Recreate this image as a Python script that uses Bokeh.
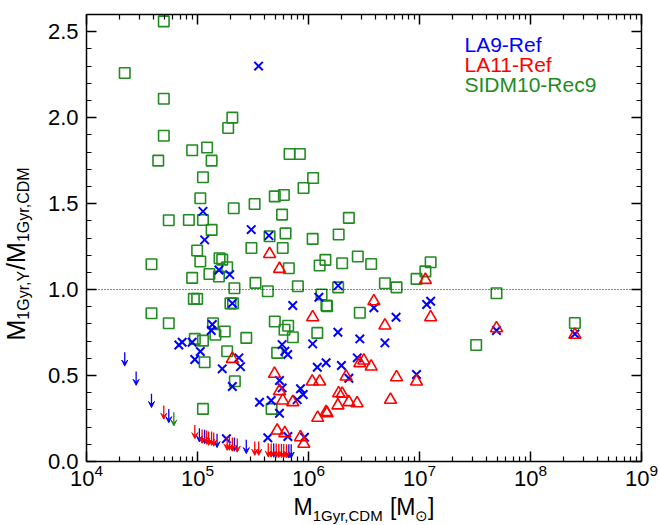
import math
from bokeh.plotting import figure
from bokeh.layouts import row, column
from bokeh.models import (Range1d, FixedTicker, LinearAxis, LogAxis, Label, Span, Arrow,
                          VeeHead, ColumnDataSource, NumeralTickFormatter, CustomJSTickFormatter)
from bokeh.embed import file_html
from bokeh.resources import INLINE

# ---------------- data ----------------
sidm_mass = [4.97e4, 2.21e4, 4.97e4, 2.06e5, 1.89e5, 4.97e4, 8.95e4, 1.22e5, 4.43e4, 1.34e5,
             1.12e5, 1.06e5, 4.97e5, 3.27e5, 2.12e5, 5.51e4, 8.36e4, 1.12e5, 1.34e5, 3.06e5,
             4.46e5, 9.93e4, 1.06e5, 3.85e4, 1.58e5, 1.67e5, 1.85e5, 1.28e5, 1.56e5, 8.95e4,
             3.33e5, 2.15e5, 4.30e5, 9.27e4, 9.93e4, 1.98e5, 2.09e5, 3.85e4, 5.51e4, 1.38e5,
             1.76e5, 1.45e5, 2.75e5, 9.46e4, 1.12e5, 4.97e5, 6.56e5, 6.08e5, 7.23e5, 1.20e6,
             1.45e6, 1.85e5, 5.22e5, 1.16e5, 2.17e5, 1.12e5, 4.65e5, 6.75e5, 8.36e5, 1.10e6,
             9.02e5, 6.00e5, 5.78e5, 2.31e6, 6.21e5, 1.09e6, 1.87e6, 5.86e5, 2.78e6, 1.42e6,
             1.26e6, 2.01e6, 3.67e6, 6.65e5, 1.26e7, 1.13e7, 9.40e6, 4.88e6, 6.21e6, 1.85e6,
             8.02e5, 1.31e6, 1.47e6, 2.90e6, 4.94e7, 3.24e7, 2.51e8]
sidm_ratio = [2.56, 2.26, 2.11, 2.00, 1.94, 1.895, 1.81, 1.826, 1.75, 1.75,
              1.653, 1.531, 1.542, 1.498, 1.473, 1.403, 1.405, 1.405, 1.347, 1.242,
              1.31, 1.227, 1.163, 1.147, 1.182, 1.174, 1.13, 1.091, 1.076, 1.068,
              1.039, 1.008, 0.99, 0.946, 0.946, 0.92, 0.92, 0.862, 0.804, 0.804,
              0.756, 0.737, 0.719, 0.713, 0.703, 0.814, 0.79, 0.766, 0.723, 0.748,
              0.907, 0.641, 0.632, 0.577, 0.467, 0.306, 0.306, 1.789, 1.789, 1.649,
              1.591, 1.55, 1.436, 1.417, 1.327, 1.295, 1.32, 1.242, 1.192, 1.173,
              1.14, 1.153, 1.149, 1.124, 1.159, 1.106, 1.062, 1.037, 1.013, 1.013,
              1.019, 0.971, 0.903, 0.865, 0.979, 0.678, 0.806]

la9_mass = [3.55e5, 1.12e5, 1.16e5, 3.05e5, 4.40e5, 1.56e5, 1.95e5, 2.06e5, 7.21e5, 1.24e6,
            1.85e6, 3.88e6, 6.15e6, 1.16e7, 1.26e7, 1.36e5, 1.33e5, 6.79e4, 7.28e4, 8.95e4,
            1.06e5, 9.46e4, 2.36e5, 2.44e5, 1.67e5, 2.06e5, 5.78e5, 6.50e5, 6.12e5, 1.09e6,
            1.20e6, 1.44e6, 5.48e5, 5.79e5, 3.62e5, 4.61e5, 5.48e5, 8.47e5, 8.95e5, 7.91e5,
            4.30e5, 6.52e5, 9.20e5, 1.82e5, 1.84e6, 2.90e6, 4.88e6, 1.98e6, 2.75e6, 2.31e6,
            9.40e6, 4.94e7, 2.51e8]
la9_ratio = [2.30, 1.455, 1.289, 1.349, 1.314, 1.114, 1.087, 0.92, 0.907, 0.955,
             1.023, 0.894, 0.839, 0.913, 0.932, 0.797, 0.762, 0.678, 0.694, 0.694,
             0.64, 0.593, 0.603, 0.552, 0.539, 0.436, 0.68, 0.622, 0.641, 0.684,
             0.548, 0.574, 0.471, 0.428, 0.345, 0.355, 0.281, 0.423, 0.39, 0.36,
             0.138, 0.145, 0.141, 0.132, 0.752, 0.713, 0.69, 0.558, 0.603, 0.484,
             0.506, 0.762, 0.742]

la11_mass = [4.46e5, 5.48e5, 3.88e6, 1.13e7, 1.09e6, 1.26e7, 4.88e6, 2.90e6, 3.15e6, 3.67e6,
             2.18e6, 1.08e6, 1.26e6, 6.21e6, 9.40e6, 4.94e5, 5.48e5, 5.86e5, 7.21e5, 1.87e6,
             2.01e6, 1.84e6, 2.31e6, 2.74e6, 5.48e6, 1.44e6, 1.47e6, 1.21e6, 5.22e5, 6.12e5,
             8.47e5, 9.08e5, 2.06e5, 4.94e7, 2.51e8]
la11_ratio = [1.207, 1.12, 0.932, 1.056, 0.839, 0.839, 0.791, 0.572, 0.587, 0.552,
              0.494, 0.465, 0.465, 0.49, 0.465, 0.51, 0.409, 0.355, 0.345, 0.397,
              0.394, 0.326, 0.345, 0.339, 0.359, 0.287, 0.281, 0.254, 0.18, 0.165,
              0.141, 0.103, 0.597, 0.775, 0.737]

# upper limits (arrows pointing down)
la9_lim_mass = [2.21e4, 2.80e4, 3.85e4, 5.51e4, 1.04e5, 1.16e5, 1.50e5, 2.15e5, 2.75e5,
                4.86e5, 6.65e5, 6.98e5]
la9_lim_ratio = [0.635, 0.523, 0.394, 0.306, 0.194, 0.184, 0.161, 0.14, 0.126,
                 0.105, 0.10, 0.10]
la11_lim_mass = [4.97e4, 9.46e4, 1.10e5, 1.21e5, 1.26e5, 1.34e5, 1.40e5, 1.85e5, 1.94e5,
                 2.06e5, 2.28e5, 3.28e5, 3.56e5, 4.34e5, 4.61e5, 5.12e5, 5.40e5, 5.71e5,
                 5.98e5, 6.34e5]
la11_lim_ratio = [0.326, 0.213, 0.186, 0.18, 0.174, 0.174, 0.169, 0.145, 0.145,
                  0.14, 0.134, 0.116, 0.116, 0.106, 0.105, 0.104, 0.103, 0.103,
                  0.102, 0.10]
sidm_lim_mass = [6.12e4]
sidm_lim_ratio = [0.287]

series_names = ["LA9-Ref", "LA11-Ref", "SIDM10-Rec9"]
x_major = [1e4, 1e5, 1e6, 1e7, 1e8, 1e9]
y_major = [0.0, 0.5, 1.0, 1.5, 2.0, 2.5]

# ---------------- style ----------------
BLUE, RED, GREEN = "#0000ff", "#ff0000", "#228b22"
FONT = "Liberation Sans"
DESC = 0.212                 # font descent (em) used to place text on its baseline
ARROW_LEN = 0.08

W_TOTAL, H_TOTAL = 659, 525
YLAB_W = 38                  # strip for the rotated y title
MAIN_W = W_TOTAL - YLAB_W    # 621
MAIN_H = 493
XLAB_H = H_TOTAL - MAIN_H    # 32

# frame placement on the page (pixels)
FX0, FX1, FY0, FY1 = 86.0, 641.0, 14.0, 461.0
PPD = (FX1 - FX0) / 5.0
PPU = (FY1 - FY0) / 2.6


def sx(px):
    return 10 ** (4 + (px - FX0) / PPD)


def sy(py):
    return (FY1 - py) / PPU


x_minor = [k * d for d in x_major[:-1] for k in range(2, 10)]
y_minor = [i / 10 for i in range(0, 27)]

p = figure(width=MAIN_W, height=MAIN_H, x_axis_type="log",
           x_range=Range1d(1e4, 1e9), y_range=Range1d(0, 2.6),
           output_backend="svg", toolbar_location=None,
           min_border_left=int(FX0 - YLAB_W), min_border_right=int(W_TOTAL - FX1),
           min_border_top=int(FY0), min_border_bottom=int(MAIN_H - FY1))
p.grid.visible = False
p.outline_line_color = None


def style_axis(ax, labels=True):
    ax.axis_line_width = 1.5
    ax.axis_line_color = "black"
    ax.major_tick_line_color = "black"
    ax.minor_tick_line_color = "black"
    ax.major_tick_line_width = 1.5
    ax.minor_tick_line_width = 1.2
    ax.major_tick_in = 10
    ax.major_tick_out = 0
    ax.minor_tick_in = 5
    ax.minor_tick_out = 0
    if labels:
        ax.major_label_text_font = FONT
        ax.major_label_text_font_size = "22px"
        ax.major_label_text_color = "black"
        ax.major_label_standoff = 8
    else:
        ax.formatter = CustomJSTickFormatter(code="return ''")
        ax.major_label_text_font_size = "0px"
        ax.major_label_standoff = 0


xb = p.below[0]
xb.ticker = FixedTicker(ticks=x_major, minor_ticks=x_minor)
style_axis(xb)
xb.major_label_standoff = 2

yl = p.left[0]
yl.ticker = FixedTicker(ticks=y_major, minor_ticks=y_minor)
yl.formatter = NumeralTickFormatter(format="0.0")
style_axis(yl)

xt = LogAxis(ticker=FixedTicker(ticks=x_major, minor_ticks=x_minor))
style_axis(xt, labels=False)
p.add_layout(xt, "above")
yr = LinearAxis(ticker=FixedTicker(ticks=y_major, minor_ticks=y_minor))
style_axis(yr, labels=False)
p.add_layout(yr, "right")

# reference line
p.add_layout(Span(location=1.0, dimension="width", line_color="black",
                  line_dash="1 2", line_width=1))

# points
p.scatter(sidm_mass, sidm_ratio, marker="square", size=10.5, fill_color=None,
          line_color=GREEN, line_width=1.6)
p.scatter(la9_mass, la9_ratio, marker="x", size=12, line_color=BLUE, line_width=2)
p.scatter(la11_mass, la11_ratio, marker="triangle", size=12, fill_color=None,
          line_color=RED, line_width=1.6)

# upper limits
for m, r, c in [(la9_lim_mass, la9_lim_ratio, BLUE),
                (la11_lim_mass, la11_lim_ratio, RED),
                (sidm_lim_mass, sidm_lim_ratio, GREEN)]:
    src = ColumnDataSource(dict(x=m, y=r, y2=[v - ARROW_LEN for v in r]))
    p.add_layout(Arrow(end=VeeHead(size=6, line_color=c, fill_color=c, line_width=1),
                       x_start="x", y_start="y", x_end="x", y_end="y2", source=src,
                       line_color=c, line_width=1.3))

# legend texts (baseline at the given page y)
LEG_FS = 21
for i, (name, col) in enumerate(zip(series_names, [BLUE, RED, GREEN])):
    base = 51.5 + 20 * i
    p.add_layout(Label(x=sx(464), y=sy(base + DESC * LEG_FS), text=name, text_color=col,
                       text_font=FONT, text_font_size=f"{LEG_FS}px",
                       text_align="left", text_baseline="bottom"))


def text_canvas(w, h, xr, yr_):
    f = figure(width=w, height=h, x_range=xr, y_range=yr_,
               x_axis_type=None, y_axis_type=None, output_backend="svg",
               toolbar_location=None, min_border=0)
    f.grid.visible = False
    f.outline_line_color = None
    return f


# x-axis title strip (its frame is aligned with the main frame: FX0..FX1)
xlab = text_canvas(MAIN_W, XLAB_H, Range1d(FX0, FX1), Range1d(0, XLAB_H))
BIG, SUB = 23, 15
# (text, font size, advance in em, extra gap in em before the piece)
xpieces = [("M", BIG, 0.833, 0.0), ("1Gyr,CDM", SUB, 4.722, 0.0), ("[M", BIG, 1.111, 0.278),
           ("\u2299", SUB, 0.84, 0.0), ("]", BIG, 0.278, 0.0)]
cx = 293.0
for txt, fs, em, gap in xpieces:
    cx += gap * fs
    base = 515.0 if fs == BIG else 520.0
    xlab.add_layout(Label(x=cx, y=H_TOTAL - (base + DESC * fs), text=txt,
                          text_color="black", text_font=FONT, text_font_size=f"{fs}px",
                          text_align="left", text_baseline="bottom"))
    cx += em * fs

# y-axis title strip: M_{1Gyr,Y}/M_{1Gyr,CDM} (rotated)
ylab = text_canvas(YLAB_W, H_TOTAL, Range1d(0, YLAB_W), Range1d(0, H_TOTAL))
YBIG, YSUB = 25, 16
ypieces = [("M", YBIG, 0.833), ("1Gyr,Y", YSUB, 3.112), ("/M", YBIG, 1.111),
           ("1Gyr,CDM", YSUB, 4.722)]
cy = 340.0
for txt, fs, em in ypieces:
    base = 24.0 if fs == YBIG else 28.5
    ylab.add_layout(Label(x=base + DESC * fs, y=H_TOTAL - cy, text=txt, text_color="black",
                          text_font=FONT, text_font_size=f"{fs}px", angle=math.pi / 2,
                          text_align="left", text_baseline="bottom"))
    cy -= em * fs

layout = row(ylab, column(p, xlab, spacing=0), spacing=0)
open("out.html", "w").write(file_html(layout, INLINE))
